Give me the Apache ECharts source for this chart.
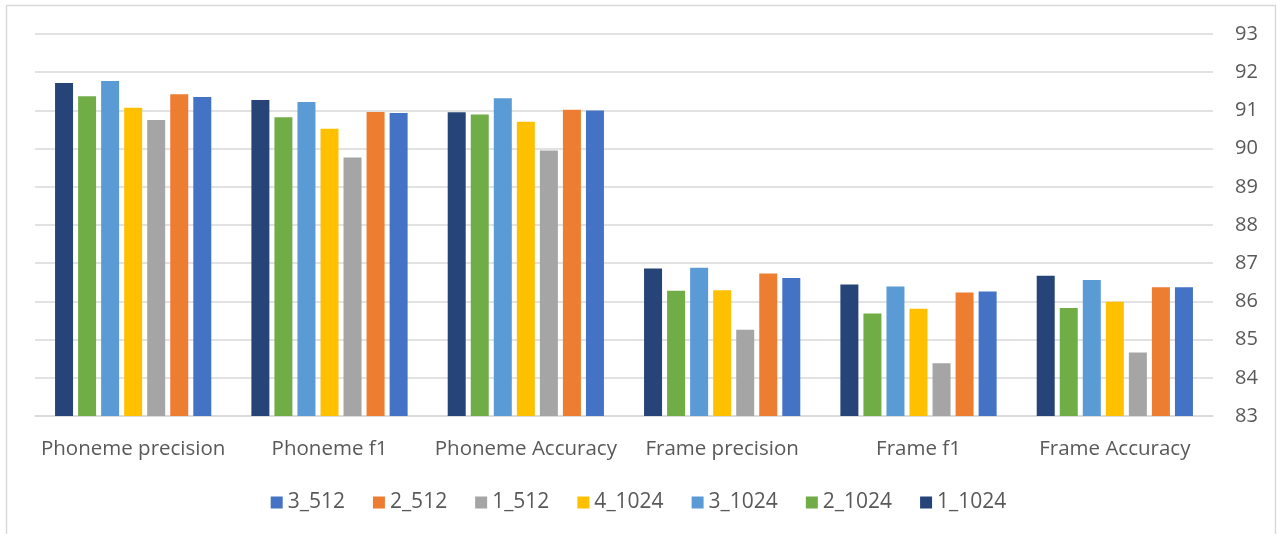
<!DOCTYPE html>
<html>
<head>
<meta charset="utf-8">
<style>
  html, body { margin: 0; padding: 0; background: #ffffff; }
  #chart { width: 1277px; height: 534px; }
</style>
<script src="https://cdn.jsdelivr.net/npm/echarts@6/dist/echarts.min.js"></script>
</head>
<body>
<div id="chart"></div>
<script>
// Metric groups along the x axis
const categories = ['Phoneme precision', 'Phoneme f1', 'Phoneme Accuracy', 'Frame precision', 'Frame f1', 'Frame Accuracy'];

// Scores per configuration (layers_units), one value per metric
const s1_1024 = [91.72, 91.27, 90.95, 86.86, 86.44, 86.67];
const s2_1024 = [91.37, 90.82, 90.89, 86.28, 85.68, 85.83];
const s3_1024 = [91.77, 91.22, 91.32, 86.88, 86.39, 86.56];
const s4_1024 = [91.07, 90.52, 90.70, 86.29, 85.81, 85.99];
const s1_512  = [90.75, 89.77, 89.95, 85.26, 84.38, 84.66];
const s2_512  = [91.42, 90.96, 91.02, 86.73, 86.23, 86.37];
const s3_512  = [91.35, 90.93, 91.00, 86.61, 86.26, 86.37];

// Y axis range
const yMin = 83;
const yMax = 93;
const yStep = 1;

const labelColor = '#595959';
const gridColor = '#d9d9d9';
const fontFamily = '"Open Sans", "Noto Sans", sans-serif';

const seriesDefs = [
  { name: '1_1024', data: s1_1024, color: '#264478' },
  { name: '2_1024', data: s2_1024, color: '#70AD47' },
  { name: '3_1024', data: s3_1024, color: '#5B9BD5' },
  { name: '4_1024', data: s4_1024, color: '#FFC000' },
  { name: '1_512',  data: s1_512,  color: '#A5A5A5' },
  { name: '2_512',  data: s2_512,  color: '#ED7D31' },
  { name: '3_512',  data: s3_512,  color: '#4472C4' }
];

const chart = echarts.init(document.getElementById('chart'), null, { renderer: 'canvas' });

chart.setOption({
  animation: false,
  backgroundColor: '#ffffff',
  textStyle: { fontFamily: fontFamily },
  graphic: [{
    type: 'rect',
    shape: { x: 6.5, y: 5.5, width: 1269, height: 540 },
    style: { fill: 'none', stroke: gridColor, lineWidth: 1.5 },
    silent: true,
    z: -1
  }],
  grid: { left: 35, right: 64, top: 34, bottom: 118, containLabel: false },
  legend: {
    data: seriesDefs.map(s => s.name).reverse(),
    top: 487,
    left: 'center',
    itemWidth: 12,
    itemHeight: 12,
    itemGap: 28,
    icon: 'rect',
    textStyle: { color: labelColor, fontSize: 21, fontFamily: fontFamily }
  },
  xAxis: {
    type: 'category',
    data: categories,
    axisLine: { show: true, lineStyle: { color: gridColor, width: 1.5 } },
    axisTick: { show: false },
    axisLabel: { color: labelColor, fontSize: 20.5, margin: 23, interval: 0, fontFamily: fontFamily }
  },
  yAxis: {
    type: 'value',
    position: 'right',
    min: yMin,
    max: yMax,
    interval: yStep,
    axisLine: { show: false },
    axisTick: { show: false },
    splitLine: { lineStyle: { color: gridColor, width: 1.5 } },
    axisLabel: { color: labelColor, fontSize: 20, margin: 22, fontFamily: fontFamily }
  },
  series: seriesDefs.map(s => ({
    name: s.name,
    type: 'bar',
    data: s.data,
    barWidth: 18,
    barGap: '28%',
    itemStyle: { color: s.color }
  }))
});
</script>
</body>
</html>
